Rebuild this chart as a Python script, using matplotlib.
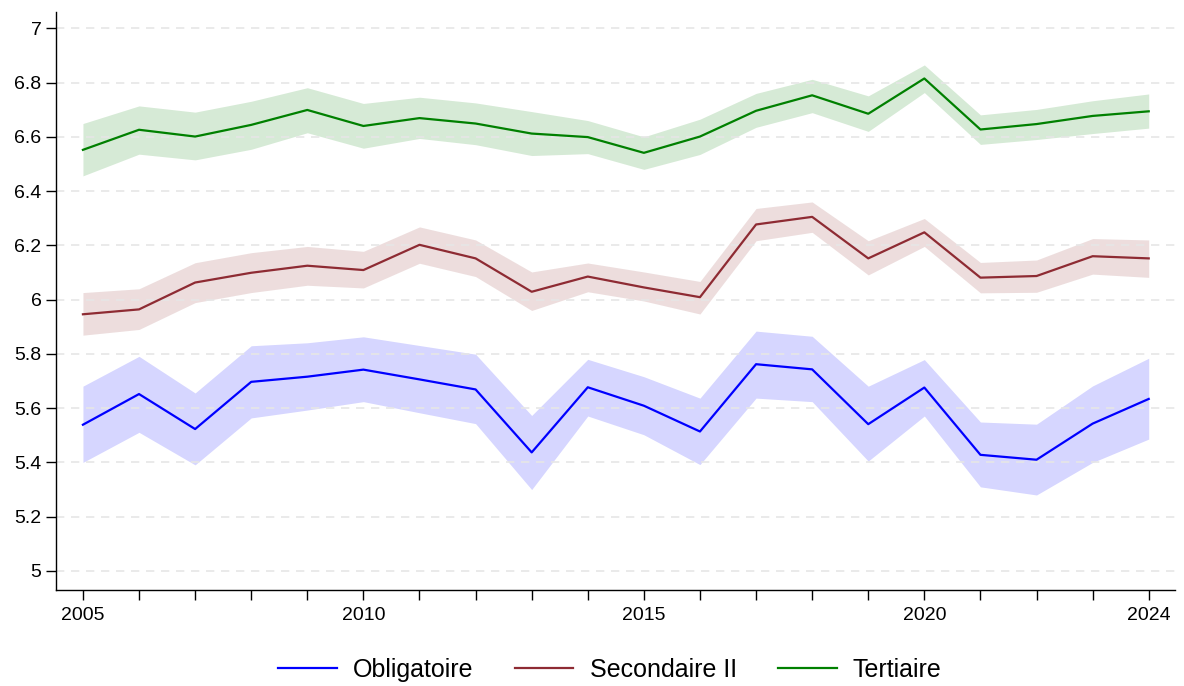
import numpy as np
import matplotlib
matplotlib.use("Agg")
import matplotlib.pyplot as plt

plt.rcParams['font.family'] = ['Liberation Sans', 'DejaVu Sans']

# ---------------------------------------------------------
# données
# ---------------------------------------------------------
years = list(range(2005, 2025))

obligatoire = [5.539, 5.652, 5.523, 5.697, 5.716, 5.742, 5.706, 5.669, 5.437, 5.677,
               5.609, 5.514, 5.762, 5.743, 5.541, 5.676, 5.428, 5.410, 5.543, 5.634]
obligatoire_lo = [5.400, 5.511, 5.391, 5.564, 5.593, 5.624, 5.583, 5.543, 5.300, 5.571,
                  5.502, 5.392, 5.637, 5.624, 5.405, 5.571, 5.310, 5.280, 5.400, 5.486]
obligatoire_hi = [5.681, 5.791, 5.656, 5.830, 5.841, 5.863, 5.831, 5.799, 5.573, 5.780,
                  5.716, 5.637, 5.884, 5.865, 5.681, 5.779, 5.549, 5.541, 5.682, 5.784]

secondaire = [5.946, 5.964, 6.063, 6.099, 6.125, 6.109, 6.202, 6.152, 6.029, 6.085,
              6.045, 6.009, 6.277, 6.305, 6.152, 6.248, 6.081, 6.087, 6.160, 6.152]
secondaire_lo = [5.869, 5.890, 5.989, 6.026, 6.053, 6.043, 6.134, 6.085, 5.960, 6.029,
                 5.995, 5.947, 6.217, 6.248, 6.091, 6.196, 6.025, 6.027, 6.094, 6.082]
secondaire_hi = [6.026, 6.040, 6.136, 6.173, 6.196, 6.178, 6.268, 6.220, 6.102, 6.135,
                 6.102, 6.067, 6.336, 6.360, 6.217, 6.299, 6.137, 6.146, 6.225, 6.220]

tertiaire = [6.552, 6.626, 6.601, 6.644, 6.699, 6.640, 6.669, 6.649, 6.612, 6.599,
             6.541, 6.601, 6.696, 6.753, 6.685, 6.815, 6.627, 6.647, 6.677, 6.694]
tertiaire_lo = [6.456, 6.536, 6.515, 6.554, 6.615, 6.558, 6.594, 6.571, 6.531, 6.538,
                6.480, 6.535, 6.635, 6.689, 6.620, 6.763, 6.572, 6.590, 6.612, 6.632]
tertiaire_hi = [6.649, 6.714, 6.691, 6.731, 6.781, 6.723, 6.746, 6.725, 6.693, 6.660,
                6.600, 6.665, 6.760, 6.812, 6.751, 6.865, 6.681, 6.701, 6.733, 6.758]

labels = ["Obligatoire", "Secondaire II", "Tertiaire"]
colors = ["#0000ff", "#8e2b33", "#008000"]
fill_colors = ["#0000ff", "#903030", "#008000"]

y_ticks = [5, 5.2, 5.4, 5.6, 5.8, 6, 6.2, 6.4, 6.6, 6.8, 7]
y_tick_labels = ["5", "5.2", "5.4", "5.6", "5.8", "6", "6.2", "6.4", "6.6", "6.8", "7"]
x_labelled = [2005, 2010, 2015, 2020, 2024]

# ---------------------------------------------------------
# graphique
# ---------------------------------------------------------
fig = plt.figure(figsize=(11.84, 6.86), dpi=100)
ax = fig.add_axes([0.0473, 0.14, 0.9447, 0.8425])

series = [
    (obligatoire, obligatoire_lo, obligatoire_hi),
    (secondaire, secondaire_lo, secondaire_hi),
    (tertiaire, tertiaire_lo, tertiaire_hi),
]

for (mid, lo, hi), lab, c, fc in zip(series, labels, colors, fill_colors):
    ax.fill_between(years, lo, hi, color=fc, alpha=0.16, linewidth=0, zorder=1)
    ax.plot(years, mid, color=c, linewidth=1.6, label=lab, zorder=3)

ax.set_ylim(4.93, 7.06)
ax.set_xlim(2004.52, 2024.46)

ax.set_yticks(y_ticks)
ax.set_yticklabels(y_tick_labels)
ax.set_xticks(years)
ax.set_xticklabels([str(y) if y in x_labelled else "" for y in years])

ax.yaxis.grid(True, linestyle=(0, (5, 4)), color="#e6e6e6", linewidth=1.2)
for gl in ax.yaxis.get_gridlines():
    gl.set_zorder(2)

ax.spines['top'].set_visible(False)
ax.spines['right'].set_visible(False)
ax.spines['left'].set_linewidth(1.0)
ax.spines['bottom'].set_linewidth(1.0)
ax.tick_params(axis='both', direction='out', length=7.5, width=1.0,
               labelsize=14, colors='black')
ax.tick_params(axis='x', pad=5)
ax.tick_params(axis='y', pad=3)

fig.legend(loc='center', bbox_to_anchor=(0.515, 0.024), ncol=3, frameon=False,
           fontsize=18, handlelength=2.35, columnspacing=1.65, handletextpad=0.65)

fig.savefig("out.png", dpi=100)
